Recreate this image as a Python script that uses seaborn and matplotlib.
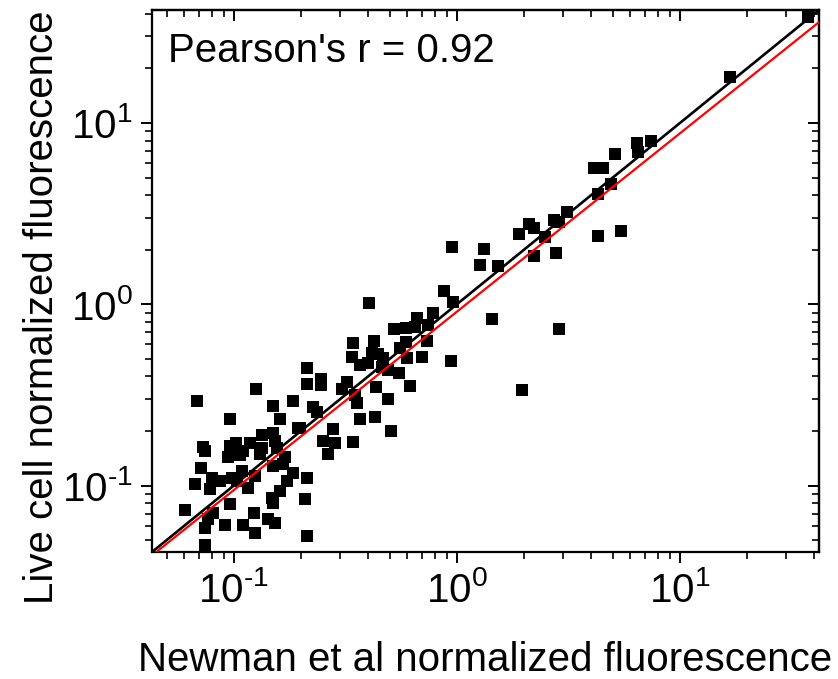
import numpy as np
import pandas as pd
import matplotlib
matplotlib.use("Agg")
import matplotlib.pyplot as plt
import matplotlib.ticker as mticker
import seaborn as sns

# ---- data ----
newman = [37.5, 16.7, 6.41, 7.41, 6.48, 5.11, 4.11, 4.52, 4.90, 4.29, 3.11, 2.72, 2.87, 2.10, 2.21,
          1.90, 2.48, 4.29, 5.44, 0.95, 1.32, 1.27, 1.53, 2.21, 2.78, 0.874, 0.96, 1.44, 2.87, 0.94, 1.96,
          0.403, 0.78, 0.662, 0.522, 0.59, 0.648, 0.741, 0.342, 0.425, 0.59, 0.733, 0.338, 0.416, 0.442,
          0.466, 0.555, 0.597, 0.697, 0.367, 0.399, 0.461, 0.49, 0.55, 0.616, 0.433, 0.49, 0.321, 0.305,
          0.349, 0.356, 0.212, 0.212, 0.245, 0.245, 0.226, 0.236, 0.367, 0.429, 0.506, 0.278, 0.198,
          0.251, 0.284, 0.342, 0.264,
          0.1256, 0.0683, 0.1496, 0.184, 0.161, 0.0959, 0.1336, 0.1496, 0.1936, 0.0726, 0.0741, 0.0959,
          0.102, 0.118, 0.1097, 0.1336, 0.1528, 0.156, 0.094, 0.1064, 0.131, 0.1694, 0.166, 0.1496,
          0.0711, 0.1086, 0.124, 0.184, 0.0796, 0.0865, 0.098, 0.103, 0.0668, 0.078, 0.1156, 0.173,
          0.148, 0.1496, 0.161, 0.212, 0.208, 0.0603, 0.0959, 0.0805, 0.0764, 0.0741, 0.0912, 0.1097,
          0.123, 0.142, 0.1528, 0.124, 0.212, 0.0741]
live = [38.5, 17.9, 7.76, 7.96, 6.92, 6.74, 5.64, 5.64, 4.60, 4.05, 3.22, 2.91, 2.84, 2.77, 2.63,
        2.44, 2.34, 2.38, 2.53, 2.07, 2.01, 1.64, 1.62, 1.84, 1.91, 1.18, 1.03, 0.826, 0.728, 0.484, 0.335,
        1.01, 0.90, 0.837, 0.728, 0.737, 0.746, 0.766, 0.609, 0.625, 0.617, 0.625, 0.51, 0.536, 0.529,
        0.503, 0.571, 0.503, 0.51, 0.46, 0.472, 0.449, 0.432, 0.416, 0.352, 0.348, 0.299, 0.371, 0.339,
        0.314, 0.284, 0.443, 0.361, 0.385, 0.357, 0.27, 0.253, 0.234, 0.238, 0.201, 0.206, 0.209,
        0.177, 0.171, 0.173, 0.150,
        0.339, 0.291, 0.273, 0.291, 0.234, 0.232, 0.191, 0.196, 0.209, 0.164, 0.156, 0.166,
        0.171, 0.171, 0.156, 0.162, 0.177, 0.162, 0.143, 0.1466, 0.150, 0.143, 0.132, 0.129,
        0.1257, 0.121, 0.1136, 0.118, 0.1094, 0.1066, 0.1094, 0.1066, 0.1026, 0.0962, 0.0975, 0.1066,
        0.0859, 0.0805, 0.0938, 0.1094, 0.0848, 0.0737, 0.0796, 0.071, 0.0657, 0.0586, 0.0609, 0.0609,
        0.071, 0.0657, 0.0625, 0.055, 0.053, 0.0472]

axis_limits = [0.043, 42.0]
# lines in log-log space: log10(y) = slope*log10(x) + intercept
line_names = ["identity", "fit"]
line_slopes = [1.0, 0.984]
line_intercepts = [0.0, -0.041]
line_colors = ["black", "#ff0000"]
line_widths = [1.9, 1.6]
pearson_r = 0.92

xlabel = "Newman et al normalized fluorescence"
ylabel = "Live cell normalized fluorescence"

# ---- style ----
sns.set_style("ticks")
plt.rcParams["font.family"] = ["Liberation Sans", "DejaVu Sans"]
plt.rcParams["mathtext.fontset"] = "custom"
plt.rcParams["mathtext.rm"] = "Liberation Sans"
plt.rcParams["mathtext.it"] = "Liberation Sans:italic"
plt.rcParams["axes.unicode_minus"] = False
for k in ["text.color", "axes.labelcolor", "xtick.color", "ytick.color", "axes.edgecolor"]:
    plt.rcParams[k] = "black"

FS = 29

# choose a short hyphen for the exponent sign if mathtext supports \text
try:
    from matplotlib.mathtext import MathTextParser
    MathTextParser("agg").parse(r"$10^{\text{-}1}$", dpi=100)
    MINUS = r"\text{-}"
except Exception:
    MINUS = "-"


def log_fmt(val, pos):
    e = int(round(np.log10(val)))
    if not np.isclose(val, 10.0 ** e):
        return ""
    s = (MINUS + str(-e)) if e < 0 else str(e)
    return r"$\mathdefault{10^{" + s + r"}}$"


fig = plt.figure(figsize=(8.38, 6.79), dpi=100)
ax = fig.add_axes([152 / 838, 127 / 679, 667 / 838, 542 / 679])

df = pd.DataFrame({"newman": newman, "live": live})
sns.scatterplot(data=df, x="newman", y="live", marker="s", color="black",
                s=70, linewidth=0, ax=ax, zorder=2)

ax.set_xscale("log")
ax.set_yscale("log")
ax.set_xlim(axis_limits)
ax.set_ylim(axis_limits)
ax.xaxis.set_major_formatter(mticker.FuncFormatter(log_fmt))
ax.yaxis.set_major_formatter(mticker.FuncFormatter(log_fmt))
ax.xaxis.set_minor_formatter(mticker.NullFormatter())
ax.yaxis.set_minor_formatter(mticker.NullFormatter())

xs = np.geomspace(axis_limits[0] * 0.9, axis_limits[1] * 1.1, 200)
for name, m, b, c, w in zip(line_names, line_slopes, line_intercepts, line_colors, line_widths):
    ax.plot(xs, 10 ** (m * np.log10(xs) + b), color=c, lw=w, zorder=3, clip_on=True)

for sp in ax.spines.values():
    sp.set_linewidth(1.6)
    sp.set_color("black")

ax.tick_params(which="major", direction="out", length=8, width=1.4, labelsize=FS, pad=6,
               top=False, right=False, colors="black")
ax.tick_params(which="minor", direction="out", length=5, width=1.2, top=False, right=False,
               colors="black")

secx = ax.secondary_xaxis("top")
secy = ax.secondary_yaxis("right")
for sec in (secx, secy):
    sec.tick_params(which="major", direction="in", length=8, width=1.4, labelsize=0, colors="black")
    sec.tick_params(which="minor", direction="in", length=5, width=1.2, colors="black")
    for sp in sec.spines.values():
        sp.set_linewidth(1.6)
        sp.set_color("black")
secx.xaxis.set_major_formatter(mticker.NullFormatter())
secy.yaxis.set_major_formatter(mticker.NullFormatter())
secx.xaxis.set_minor_formatter(mticker.NullFormatter())
secy.yaxis.set_minor_formatter(mticker.NullFormatter())

ax.set_xlabel(xlabel, fontsize=FS, color="black")
ax.set_ylabel(ylabel, fontsize=FS, color="black")
ax.xaxis.set_label_coords(0.5, -0.165)
ax.yaxis.set_label_coords(-0.137, 0.452)

ax.text(0.024, 0.904, f"Pearson's r = {pearson_r:.2f}", transform=ax.transAxes,
        fontsize=FS, ha="left", va="baseline", color="black")

fig.savefig("out.png", dpi=100)
